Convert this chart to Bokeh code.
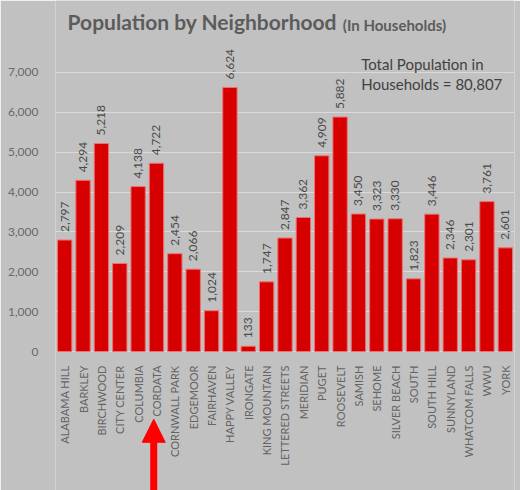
import math
from bokeh.plotting import figure
from bokeh.models import (ColumnDataSource, LabelSet, Label, Arrow, NormalHead,
                          FixedTicker, NumeralTickFormatter)
from bokeh.core.properties import value
from bokeh.embed import file_html
from bokeh.resources import INLINE

neighborhoods = ["ALABAMA HILL", "BARKLEY", "BIRCHWOOD", "CITY CENTER", "COLUMBIA",
                 "CORDATA", "CORNWALL PARK", "EDGEMOOR", "FAIRHAVEN", "HAPPY VALLEY",
                 "IRONGATE", "KING MOUNTAIN", "LETTERED STREETS", "MERIDIAN", "PUGET",
                 "ROOSEVELT", "SAMISH", "SEHOME", "SILVER BEACH", "SOUTH", "SOUTH HILL",
                 "SUNNYLAND", "WHATCOM FALLS", "WWU", "YORK"]
households = [2797, 4294, 5218, 2209, 4138, 4722, 2454, 2066, 1024, 6624, 133, 1747,
              2847, 3362, 4909, 5882, 3450, 3323, 3330, 1823, 3446, 2346, 2301, 3761, 2601]
y_ticks = [0, 1000, 2000, 3000, 4000, 5000, 6000, 7000]
title_main = "Population by Neighborhood"
title_sub = "(In Households)"
note_lines = ["Total Population in", "Households = 80,807"]
highlight = "CORDATA"

FONT = "Lato"
BG = "#c1c1c1"

src = ColumnDataSource(dict(
    name=neighborhoods,
    value=households,
    label=[f"{v:,}" for v in households],
))

p = figure(x_range=neighborhoods, y_range=(-3487, 8806), width=520, height=490,
           output_backend="svg", toolbar_location=None,
           min_border_left=55, min_border_right=6, min_border_top=0, min_border_bottom=0,
           background_fill_color=BG, border_fill_color=BG, outline_line_color=None)

p.vbar(x="name", top="value", width=0.78, source=src,
       fill_color="#d60000", line_color="#ef7070", line_width=1)

p.add_layout(LabelSet(x="name", y="value", text="label", source=src,
                      angle=math.pi / 2, text_align="left", text_baseline="middle",
                      y_offset=8, text_font=value(FONT), text_font_size="12px",
                      text_color="#4a4a4a"))

# axes
p.yaxis.ticker = FixedTicker(ticks=y_ticks)
p.yaxis.formatter = NumeralTickFormatter(format="0,0")
p.yaxis.axis_line_color = None
p.yaxis.major_tick_line_color = None
p.yaxis.minor_tick_line_color = None
p.yaxis.major_label_text_font = FONT
p.yaxis.major_label_text_font_size = "12px"
p.yaxis.major_label_text_color = "#6a6a6a"
p.yaxis.major_label_standoff = 11

p.xaxis.fixed_location = 0
p.xaxis.axis_line_color = None
p.xaxis.major_tick_line_color = None
p.xaxis.major_label_orientation = math.pi / 2
p.xaxis.major_label_text_font = FONT
p.xaxis.major_label_text_font_size = "11px"
p.xaxis.major_label_text_color = "#646464"
p.xaxis.major_label_standoff = 8

p.xgrid.grid_line_color = None
p.ygrid.grid_line_color = "#dadada"
p.ygrid.grid_line_width = 1
p.ygrid.ticker = FixedTicker(ticks=y_ticks)

# title pieces
p.add_layout(Label(x=0.66, y=8290, text=title_main, text_font=FONT,
                   text_font_style="bold", text_font_size="21px",
                   text_color="#5c5c5c", text_baseline="alphabetic"))
p.add_layout(Label(x=15.65, y=8190, text=title_sub, text_font=FONT,
                   text_font_style="bold", text_font_size="15px",
                   text_color="#5c5c5c", text_baseline="alphabetic"))

# total annotation
p.add_layout(Label(x=16.65, y=7225, text=note_lines[0], text_font=FONT,
                   text_font_size="15px", text_color="#404040",
                   text_baseline="alphabetic"))
p.add_layout(Label(x=16.65, y=6700, text=note_lines[1], text_font=FONT,
                   text_font_size="15px", text_color="#404040",
                   text_baseline="alphabetic"))

# red arrow pointing at the highlighted neighborhood
ax = neighborhoods.index(highlight) + 0.35
p.add_layout(Arrow(end=NormalHead(size=23, fill_color="#ff0000", line_color="#ff0000"),
                   x_start=ax, y_start=-3800, x_end=ax, y_end=-1700,
                   line_color="#ff0000", line_width=7))

open("out.html", "w").write(file_html(p, INLINE))
